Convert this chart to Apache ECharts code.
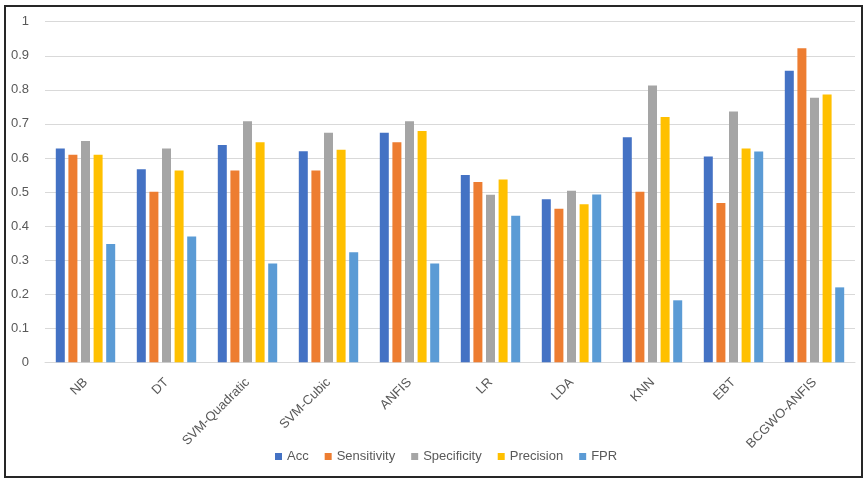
<!DOCTYPE html>
<html>
<head>
<meta charset="utf-8">
<script src="https://cdn.jsdelivr.net/npm/echarts@6/dist/echarts.min.js"></script>
<style>
  html, body { margin: 0; padding: 0; background: #fff; }
  #frame { position: absolute; left: 4px; top: 5px; width: 855px; height: 469px; border: 2px solid #262626; background: #fff; }
  #chart { position: absolute; left: 0; top: 0; width: 865px; height: 480px; }
</style>
</head>
<body>
<div id="frame"></div>
<div id="chart"></div>
<script>
// Classifier comparison: five metrics per method
const categories = ['NB', 'DT', 'SVM-Quadratic', 'SVM-Cubic', 'ANFIS', 'LR', 'LDA', 'KNN', 'EBT', 'BCGWO-ANFIS'];
const accValues         = [0.628, 0.567, 0.638, 0.620, 0.674, 0.550, 0.479, 0.661, 0.604, 0.856];
const sensitivityValues = [0.609, 0.501, 0.563, 0.563, 0.646, 0.529, 0.451, 0.501, 0.468, 0.922];
const specificityValues = [0.650, 0.628, 0.708, 0.674, 0.708, 0.492, 0.504, 0.813, 0.736, 0.777];
const precisionValues   = [0.609, 0.563, 0.646, 0.624, 0.679, 0.537, 0.464, 0.720, 0.628, 0.786];
const fprValues         = [0.347, 0.369, 0.290, 0.323, 0.290, 0.430, 0.493, 0.182, 0.619, 0.220];
const yTicks = [0, 0.1, 0.2, 0.3, 0.4, 0.5, 0.6, 0.7, 0.8, 0.9, 1];

const seriesDefs = [
  { name: 'Acc', data: accValues, color: '#4472C4' },
  { name: 'Sensitivity', data: sensitivityValues, color: '#ED7D31' },
  { name: 'Specificity', data: specificityValues, color: '#A5A5A5' },
  { name: 'Precision', data: precisionValues, color: '#FFC000' },
  { name: 'FPR', data: fprValues, color: '#5B9BD5' }
];

const font = 'Liberation Sans, Arial, sans-serif';
const chart = echarts.init(document.getElementById('chart'), null, { renderer: 'canvas' });
chart.setOption({
  animation: false,
  grid: { left: 45, right: 10, top: 21.7, bottom: 117.7, containLabel: false },
  legend: {
    bottom: 12,
    left: 270,
    itemWidth: 7,
    itemHeight: 7,
    itemGap: 16,
    icon: 'rect',
    textStyle: { color: '#595959', fontSize: 13, fontFamily: font },
    data: seriesDefs.map(s => s.name)
  },
  xAxis: {
    type: 'category',
    data: categories,
    axisLine: { lineStyle: { color: '#D9D9D9' } },
    axisTick: { show: false },
    axisLabel: { rotate: 45, color: '#595959', fontSize: 13, fontFamily: font, margin: 18, interval: 0 }
  },
  yAxis: {
    type: 'value',
    min: 0,
    max: 1,
    interval: 0.1,
    axisLine: { show: false },
    axisTick: { show: false },
    splitLine: { lineStyle: { color: '#D9D9D9', width: 1 } },
    axisLabel: {
      color: '#595959', fontSize: 13, fontFamily: font, margin: 16,
      formatter: v => {
        const t = yTicks.find(x => Math.abs(x - v) < 1e-9);
        return t === undefined ? '' : String(t);
      }
    }
  },
  series: seriesDefs.map(s => ({
    name: s.name,
    type: 'bar',
    data: s.data,
    barWidth: 9,
    barGap: '40%',
    itemStyle: { color: s.color }
  }))
});
</script>
</body>
</html>
